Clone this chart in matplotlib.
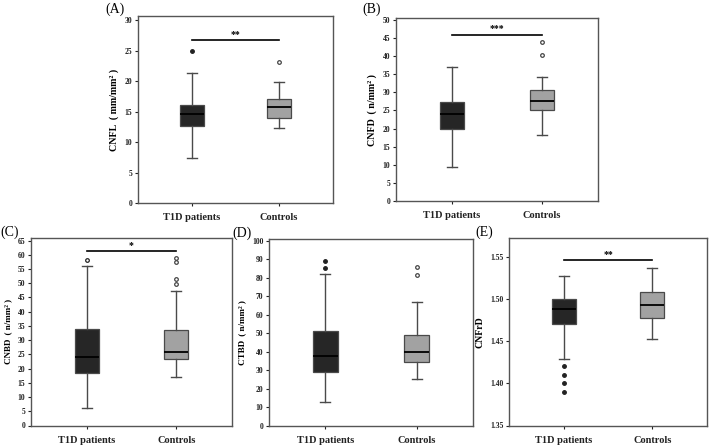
import matplotlib
matplotlib.use("Agg")
import matplotlib.pyplot as plt

plt.rcParams['font.family'] = ['Liberation Serif', 'DejaVu Serif']
plt.rcParams['font.weight'] = 'bold'

groups = ['T1D patients', 'Controls']

# five-number summaries: (whislo, q1, med, q3, whishi)
cnfl_t1d = (7.4, 12.7, 14.6, 16.1, 21.4)
cnfl_ctl = (12.3, 14.0, 15.7, 17.1, 19.8)
cnfl_out = ([24.9], [23.2])

cnfd_t1d = (9.3, 20.0, 24.0, 27.4, 37.1)
cnfd_ctl = (18.1, 25.0, 27.5, 30.5, 34.3)
cnfd_out = ([], [40.2, 44.0])

cnbd_t1d = (6.2, 18.6, 24.2, 33.9, 56.0)
cnbd_ctl = (16.9, 23.3, 25.7, 33.4, 47.4)
cnbd_out = ([58.3], [49.9, 51.4, 57.3, 58.8])

ctbd_t1d = (12.7, 29.4, 37.9, 51.2, 82.2)
ctbd_ctl = (25.5, 34.4, 39.8, 49.4, 66.8)
ctbd_out = ([85.5, 89.0], [81.4, 86.0])

cnfrd_t1d = (1.429, 1.470, 1.488, 1.500, 1.527)
cnfrd_ctl = (1.453, 1.477, 1.493, 1.508, 1.537)
cnfrd_out = ([1.39, 1.40, 1.41, 1.42], [])

W, H = 709, 446

panels = [
    dict(tag='(A)', rect=(138, 16, 333, 203), ylab='CNFL\u2009 ( mm/mm\u00b2 )',
         t1d=cnfl_t1d, ctl=cnfl_ctl, out=cnfl_out, ylim=(0, 30.7),
         ticks=range(0, 31, 5), fmt='{:d}', sig=(26.7, '**'), t1d_open=False,
         tagpos=(105, 9), lfs=7.2),
    dict(tag='(B)', rect=(396, 18, 598, 201), ylab='CNFD\u2009 ( n/mm\u00b2 )',
         t1d=cnfd_t1d, ctl=cnfd_ctl, out=cnfd_out, ylim=(0, 50.5),
         ticks=range(0, 51, 5), fmt='{:d}', sig=(45.9, '***'), t1d_open=False,
         tagpos=(362, 9), lfs=7.2),
    dict(tag='(C)', rect=(31, 238, 232, 425.5), ylab='CNBD\u2009 ( n/mm\u00b2 )',
         t1d=cnbd_t1d, ctl=cnbd_ctl, out=cnbd_out, ylim=(0, 65.9),
         ticks=range(0, 66, 5), fmt='{:d}', sig=(61.3, '*'), t1d_open=True,
         tagpos=(0, 232), lfs=6.5),
    dict(tag='(D)', rect=(269, 239, 473, 426), ylab='CTBD\u2009 ( n/mm\u00b2 )',
         t1d=ctbd_t1d, ctl=ctbd_ctl, out=ctbd_out, ylim=(0, 101),
         ticks=range(0, 101, 10), fmt='{:d}', sig=None, t1d_open=False,
         tagpos=(232, 233), lfs=6.5),
    dict(tag='(E)', rect=(509, 238, 707, 425.5), ylab='CNFrD',
         t1d=cnfrd_t1d, ctl=cnfrd_ctl, out=cnfrd_out, ylim=(1.35, 1.572),
         ticks=[1.35, 1.40, 1.45, 1.50, 1.55], fmt='{:.2f}', sig=(1.5457, '**'),
         t1d_open=False, tagpos=(475, 232), lfs=7),
]

fig = plt.figure(figsize=(W / 100, H / 100), dpi=100)

for p in panels:
    x0, y0, x1, y1 = p['rect']
    ax = fig.add_axes([x0 / W, 1 - y1 / H, (x1 - x0) / W, (y1 - y0) / H])
    stats = []
    for s, fl in zip((p['t1d'], p['ctl']), p['out']):
        stats.append(dict(whislo=s[0], q1=s[1], med=s[2], q3=s[3], whishi=s[4],
                          fliers=fl))
    bp = ax.bxp(stats, positions=[1, 2], widths=0.27, patch_artist=True,
                capwidths=0.11, showfliers=True,
                medianprops=dict(color='black', lw=1.3),
                whiskerprops=dict(color='#4a4a4a', lw=1.0),
                capprops=dict(color='#4a4a4a', lw=1.0),
                boxprops=dict(edgecolor='#4a4a4a', lw=0.9))
    bp['boxes'][0].set_facecolor('#262626')
    bp['boxes'][1].set_facecolor('#a2a2a2')
    fl0, fl1 = bp['fliers']
    fl0.set(marker='o', markersize=2.6, markeredgewidth=0.9,
            markeredgecolor='#222222',
            markerfacecolor='white' if p['t1d_open'] else '#222222')
    fl1.set(marker='o', markersize=2.6, markeredgewidth=0.9,
            markeredgecolor='#444444', markerfacecolor='white')

    if p['sig'] is not None:
        yy, stars = p['sig']
        ax.plot([1, 2], [yy, yy], color='black', lw=1.2)
        span = p['ylim'][1] - p['ylim'][0]
        ax.text(1.5, yy + span * 0.008, stars, ha='center', va='bottom',
                fontsize=7, fontweight='bold')

    ax.set_xlim(0.38, 2.62)
    ax.set_ylim(*p['ylim'])
    ax.set_yticks(list(p['ticks']))
    ax.set_yticklabels([p['fmt'].format(t) for t in p['ticks']],
                       fontsize=5.5, fontweight='bold')
    ax.set_xticks([1, 2])
    ax.set_xticklabels(groups, fontsize=7.5, fontweight='bold')
    ax.tick_params(axis='y', length=2.5, width=0.8, pad=1.5, colors='#222222')
    ax.tick_params(axis='x', length=2.5, width=0.8, pad=5, colors='#222222')
    for sp in ax.spines.values():
        sp.set_color('#555555')
        sp.set_linewidth(1.0)
    ax.set_ylabel(p['ylab'], fontsize=p['lfs'], fontweight='bold', labelpad=4)

    fig.text(p['tagpos'][0] / W, 1 - p['tagpos'][1] / H, p['tag'],
             fontsize=10, fontweight='normal', ha='left', va='center')

fig.savefig('out.png', dpi=100)
